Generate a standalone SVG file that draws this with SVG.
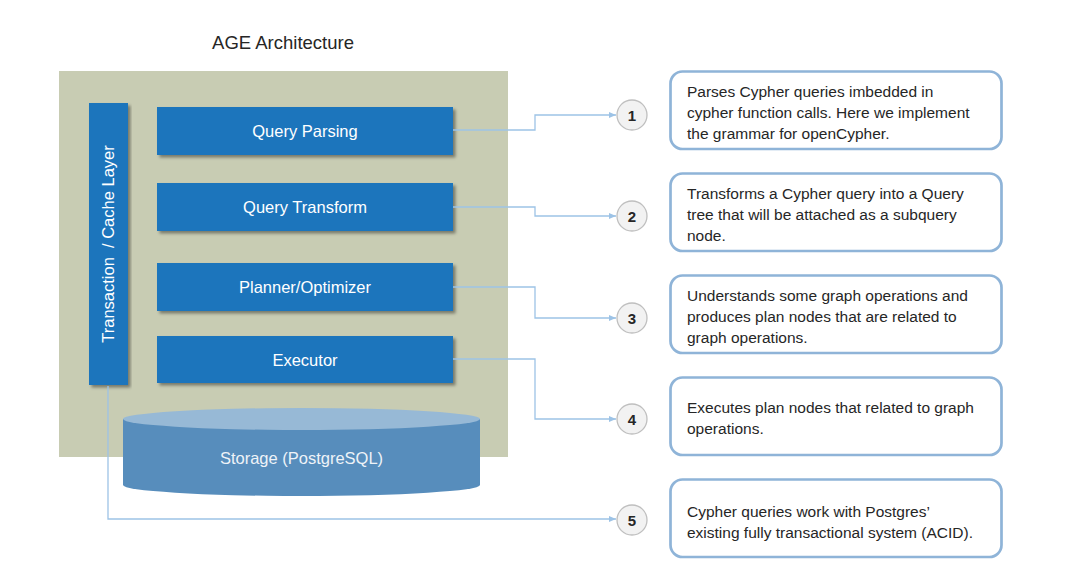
<svg xmlns="http://www.w3.org/2000/svg" width="1086" height="583" viewBox="0 0 1086 583">
<style>
text{font-family:"Liberation Sans",Arial,sans-serif;}
.blk{fill:#1c75bc;filter:url(#sh);}
.blbl{fill:#ffffff;font-size:16.5px;text-anchor:middle;}
.conn{fill:none;stroke:#9dc3e6;stroke-width:1.3;}
.circ{fill:#f2f2f2;stroke:#bfbfbf;stroke-width:1.3;}
.num{fill:#262626;font-size:15px;font-weight:bold;text-anchor:middle;}
.desc{fill:#ffffff;stroke:#8fb4d8;stroke-width:2.7;}
.dtxt{fill:#262626;font-size:15.5px;}
</style>
<defs>
<filter id="sh" x="-10%" y="-10%" width="120%" height="130%">
<feDropShadow dx="2.5" dy="2.5" stdDeviation="1.5" flood-color="#000" flood-opacity="0.4"/>
</filter>
<marker id="ar" markerWidth="8" markerHeight="8" refX="7" refY="4" orient="auto" markerUnits="userSpaceOnUse">
<path d="M0,1 L7,4 L0,7 Z" fill="#9dc3e6"/>
</marker>
</defs>
<rect width="1086" height="583" fill="#ffffff"/>
<text x="283" y="49" font-size="18.5" fill="#262626" text-anchor="middle">AGE Architecture</text>
<g id="container">
<rect x="59" y="71" width="449" height="386" fill="#c8ccb3"/>
</g>
<g id="storage">
<path d="M123,419 L123,485 A178.5,11 0 0 0 480,485 L480,419 Z" fill="#578dbc"/>
<ellipse cx="301.5" cy="419" rx="178.5" ry="11" fill="#97b9d6"/>
<text x="301.5" y="464" font-size="16.5" fill="#eef3f8" text-anchor="middle">Storage (PostgreSQL)</text>
</g>
<g id="transaction">
<rect class="blk" x="89" y="103" width="39" height="282"/>
<text class="blbl" transform="translate(114,244) rotate(-90)" xml:space="preserve">Transaction  / Cache Layer</text>
</g>
<g id="query-parsing">
<rect class="blk" x="157" y="107" width="296" height="48"/>
<text class="blbl" x="305" y="137">Query Parsing</text>
</g>
<g id="query-transform">
<rect class="blk" x="157" y="183" width="296" height="48"/>
<text class="blbl" x="305" y="213">Query Transform</text>
</g>
<g id="planner">
<rect class="blk" x="157" y="263" width="296" height="48"/>
<text class="blbl" x="305" y="293">Planner/Optimizer</text>
</g>
<g id="executor">
<rect class="blk" x="157" y="336" width="296" height="47"/>
<text class="blbl" x="305" y="366">Executor</text>
</g>
<g id="connectors">
<polyline class="conn" points="453,130 535,130 535,115 616,115" marker-end="url(#ar)"/>
<polyline class="conn" points="453,207 535,207 535,216 616,216" marker-end="url(#ar)"/>
<polyline class="conn" points="453,287 535,287 535,318 616,318" marker-end="url(#ar)"/>
<polyline class="conn" points="453,359 535,359 535,419 616,419" marker-end="url(#ar)"/>
<polyline class="conn" points="108,386 108,519 616,519" marker-end="url(#ar)"/>
</g>
<g id="n1"><circle class="circ" cx="632" cy="115" r="15"/><text class="num" x="632" y="120.5">1</text></g>
<g id="n2"><circle class="circ" cx="632" cy="216" r="15"/><text class="num" x="632" y="221.5">2</text></g>
<g id="n3"><circle class="circ" cx="632" cy="318" r="15"/><text class="num" x="632" y="323.5">3</text></g>
<g id="n4"><circle class="circ" cx="632" cy="419" r="15"/><text class="num" x="632" y="424.5">4</text></g>
<g id="n5"><circle class="circ" cx="632" cy="520" r="15"/><text class="num" x="632" y="525.5">5</text></g>
<g id="d1">
<rect class="desc" x="670.5" y="71.5" width="331" height="77.5" rx="12"/>
<text class="dtxt" x="687" y="97">Parses Cypher queries imbedded in</text>
<text class="dtxt" x="687" y="118">cypher function calls. Here we implement</text>
<text class="dtxt" x="687" y="139">the grammar for openCypher.</text>
</g>
<g id="d2">
<rect class="desc" x="670.5" y="173.5" width="331" height="77.5" rx="12"/>
<text class="dtxt" x="687" y="199">Transforms a Cypher query into a Query</text>
<text class="dtxt" x="687" y="220">tree that will be attached as a subquery</text>
<text class="dtxt" x="687" y="241">node.</text>
</g>
<g id="d3">
<rect class="desc" x="670.5" y="275.5" width="331" height="77.5" rx="12"/>
<text class="dtxt" x="687" y="301">Understands some graph operations and</text>
<text class="dtxt" x="687" y="322">produces plan nodes that are related to</text>
<text class="dtxt" x="687" y="343">graph operations.</text>
</g>
<g id="d4">
<rect class="desc" x="670.5" y="377.5" width="331" height="77.5" rx="12"/>
<text class="dtxt" x="687" y="413">Executes plan nodes that related to graph</text>
<text class="dtxt" x="687" y="434">operations.</text>
</g>
<g id="d5">
<rect class="desc" x="670.5" y="479.5" width="331" height="77.5" rx="12"/>
<text class="dtxt" x="687" y="517">Cypher queries work with Postgres’</text>
<text class="dtxt" x="687" y="538">existing fully transactional system (ACID).</text>
</g>
</svg>
